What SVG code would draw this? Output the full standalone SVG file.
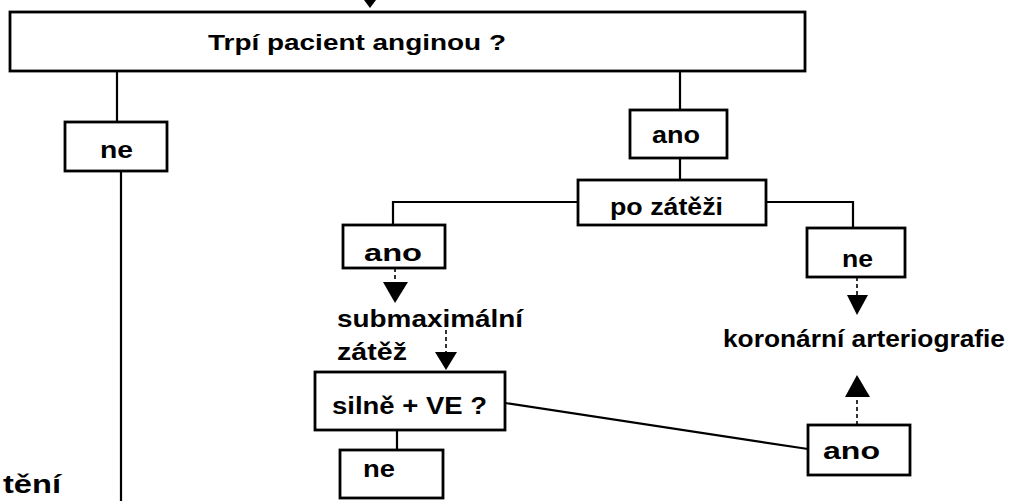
<svg xmlns="http://www.w3.org/2000/svg" width="1012" height="501" viewBox="0 0 1012 501">
<style>
.box{fill:none;stroke:#000;stroke-width:2.8}
.ln{fill:none;stroke:#000;stroke-width:2.2}
.dash{fill:none;stroke:#000;stroke-width:1.6;stroke-dasharray:4 3}
.ah{fill:#000}
text{font-family:"Liberation Sans",Arial,sans-serif;font-weight:bold;fill:#000}
.t{font-size:22px}
.l{font-size:23px}
</style>
<rect width="1012" height="501" fill="#fff"/>
<g id="connectors">
<polygon class="ah" points="364,0 376,0 370,8"/>
<path class="ln" d="M117,71 V122"/>
<path class="ln" d="M121,171 V501"/>
<path class="ln" d="M680,71 V110"/>
<path class="ln" d="M680,158 V180"/>
<path class="ln" d="M578,202 H393 V225"/>
<path class="ln" d="M766,202 H853 V228"/>
<path class="dash" d="M395,268 V283"/>
<polygon class="ah" points="383,282 408,282 395,303"/>
<path class="dash" d="M446,330 V353"/>
<polygon class="ah" points="435,352 457,352 446,370"/>
<path class="ln" d="M397,430 V450"/>
<path class="ln" d="M505,403 L808,449"/>
<path class="dash" d="M857,277 V296"/>
<polygon class="ah" points="847,295 868,295 857,315"/>
<path class="dash" d="M857,425 V396"/>
<polygon class="ah" points="845,397 870,397 857,375"/>
</g>
<g id="n_main">
<rect class="box" x="10" y="12" width="795" height="59"/>
<text class="t" x="208" y="50" textLength="298" lengthAdjust="spacingAndGlyphs">Trpí pacient anginou ?</text>
</g>
<g id="n_ne1">
<rect class="box" x="65" y="122" width="102" height="49"/>
<text class="l" x="100" y="158" textLength="33" lengthAdjust="spacingAndGlyphs">ne</text>
</g>
<g id="n_ano1">
<rect class="box" x="630" y="110" width="97" height="48"/>
<text class="l" x="652" y="143" textLength="48" lengthAdjust="spacingAndGlyphs">ano</text>
</g>
<g id="n_po">
<rect class="box" x="578" y="180" width="188" height="45"/>
<text class="l" x="610" y="215" textLength="113" lengthAdjust="spacingAndGlyphs">po zátěži</text>
</g>
<g id="n_ano2">
<rect class="box" x="343" y="225" width="102" height="43"/>
<text class="l" x="364" y="261" textLength="58" lengthAdjust="spacingAndGlyphs">ano</text>
</g>
<g id="n_ne2">
<rect class="box" x="807" y="228" width="98" height="49"/>
<text class="l" x="842" y="267" textLength="31" lengthAdjust="spacingAndGlyphs">ne</text>
</g>
<g id="n_submax">
<text class="l" x="337" y="327" textLength="186" lengthAdjust="spacingAndGlyphs">submaximální</text>
<text class="l" x="337" y="360" textLength="70" lengthAdjust="spacingAndGlyphs">zátěž</text>
</g>
<g id="n_koro">
<text class="l" x="723" y="347" textLength="282" lengthAdjust="spacingAndGlyphs">koronární arteriografie</text>
</g>
<g id="n_silne">
<rect class="box" x="315" y="372" width="190" height="58"/>
<text class="l" x="332" y="414" textLength="155" lengthAdjust="spacingAndGlyphs">silně + VE ?</text>
</g>
<g id="n_ne3">
<rect class="box" x="340" y="450" width="103" height="48"/>
<text class="l" x="363" y="477" textLength="32" lengthAdjust="spacingAndGlyphs">ne</text>
</g>
<g id="n_ano3">
<rect class="box" x="808" y="425" width="102" height="50"/>
<text class="l" x="823" y="459" textLength="57" lengthAdjust="spacingAndGlyphs">ano</text>
</g>
<g id="n_bottomleft">
<text x="3" y="493" font-size="26" textLength="58" lengthAdjust="spacingAndGlyphs">tění</text>
</g>
</svg>
